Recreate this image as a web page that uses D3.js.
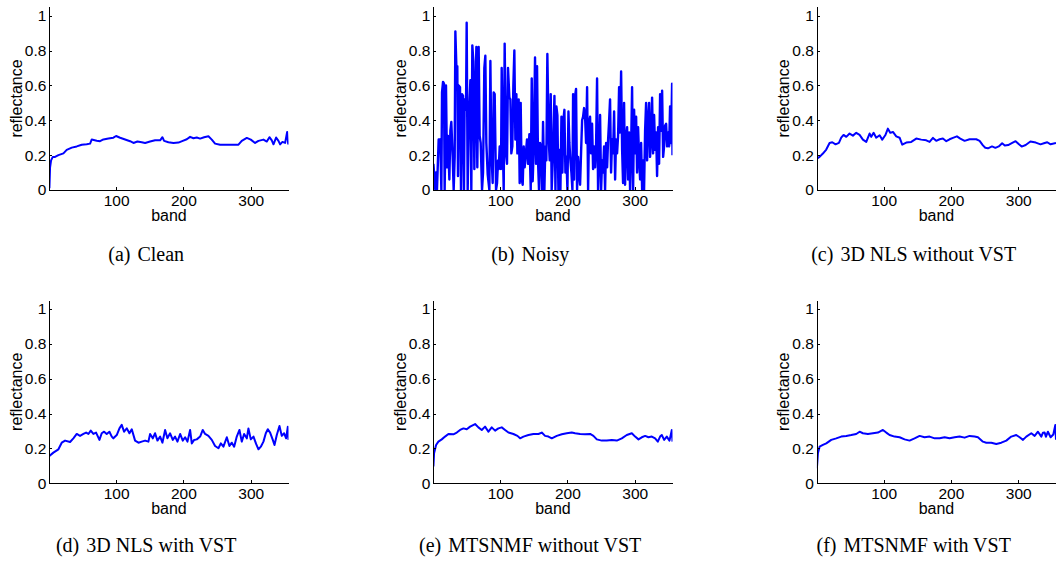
<!DOCTYPE html>
<html>
<head>
<meta charset="utf-8">
<script src="https://cdn.jsdelivr.net/npm/d3@7"></script>
<style>
  html, body { margin: 0; padding: 0; background: #fff; }
  svg { display: block; }
  .axis text { font-family: "Liberation Sans", Arial, sans-serif; font-size: 15.5px; fill: #000; }
  .axis path, .axis line { stroke: #000; stroke-width: 1; shape-rendering: crispEdges; }
  .label { font-family: "Liberation Sans", Arial, sans-serif; font-size: 16px; fill: #000; }
  .caption { font-family: "Liberation Serif", "Times New Roman", serif; font-size: 20px; fill: #000; }
</style>
</head>
<body>
<svg id="chart" width="1056" height="565"></svg>
<script>
// Spectral signatures: [band, reflectance]
const clean = [
  [1,0.01],[2,0.13],[3.5,0.17],[6,0.19],[9.4,0.19],[14.4,0.20],[21.8,0.21],[26.7,0.23],[34.2,0.243],
  [41.6,0.25],[49,0.26],[56.4,0.262],[61.4,0.266],[63.9,0.29],[71.3,0.283],[76.2,0.28],[81.2,0.29],
  [88.6,0.295],[96,0.30],[100,0.31],[106,0.30],[113.4,0.29],[120.8,0.28],[125.8,0.27],[131.7,0.278],
  [138.1,0.274],[143.1,0.27],[150.5,0.278],[157.9,0.285],[165.4,0.285],[168.8,0.303],[171.3,0.282],
  [177.7,0.274],[185.2,0.27],[192.6,0.272],[199,0.282],[205,0.291],[209.9,0.305],[214.9,0.297],
  [219.8,0.301],[224.8,0.295],[230.7,0.303],[237.1,0.308],[242.1,0.289],[247,0.266],[254.5,0.26],
  [264.4,0.259],[274.3,0.259],[281.7,0.26],[286.6,0.282],[294.1,0.299],[300,0.289],[306.4,0.27],
  [311.4,0.282],[318.8,0.289],[323.8,0.278],[327.7,0.303],[331.2,0.285],[333.7,0.262],[337.6,0.301],
  [341.1,0.282],[343.6,0.262],[347,0.276],[351,0.27],[354,0.333],[355.5,0.266],[356,0.27]
];

const noisy = [
  [1,0.15],[3.9,0],[4.9,0.10],[6.3,0],[8.8,0.29],[11.3,0.29],[12.8,0],[13.8,0.56],[15.3,0.62],
  [16.7,0.61],[17.7,0],[19.7,0.60],[21.2,0.13],[22.7,0.31],[24.7,0.06],[26.2,0.34],[27.6,0.39],
  [29.6,0.19],[31.1,0],[32.6,0.19],[33.6,0.91],[35.1,0.71],[36.5,0.71],[37.5,0.08],[38.5,0.60],
  [40.5,0.59],[42,0],[43.5,0.55],[45,0.54],[46.4,0],[47.4,0.52],[49.4,0.46],[50.4,0.96],[51.9,0],
  [53.4,0.38],[55.9,0.63],[57.3,0],[58.8,0.83],[60.3,0.74],[61.8,0.12],[63.3,0.55],[64.8,0.82],
  [66.2,0.13],[68.2,0.82],[69.7,0.31],[71.2,0.27],[73.2,0],[74.7,0.10],[76.6,0.70],[78.1,0.77],
  [79.6,0.27],[81.6,0.09],[84.1,0],[85.6,0.74],[87,0.23],[89,0.04],[90.5,0.56],[92,0.55],[94,0],
  [95.5,0.04],[97,0.17],[98,0.12],[99.4,0.25],[101.4,0.12],[102.4,0.70],[103.9,0.29],[105.4,0],
  [106.8,0.84],[108.8,0.21],[110.3,0.15],[111.8,0.70],[113.8,0.53],[115.3,0.52],[116.7,0.21],
  [118.2,0.25],[119.7,0.60],[121.2,0.80],[122.7,0.29],[124.2,0.55],[125.7,0.21],[127.6,0.52],
  [129.1,0.04],[130.6,0.50],[132.1,0.06],[133.6,0.03],[135.1,0.25],[136.5,0.13],[138.5,0.22],
  [140,0.29],[141.5,0.15],[143.5,0.32],[145.5,0],[147,0.64],[148.4,0.05],[149.9,0.23],[151.9,0.76],
  [153.4,0.15],[154.9,0.71],[156.3,0.17],[157.8,0],[159.3,0.27],[160.8,0.25],[162.3,0],[163.8,0.39],
  [165.8,0],[167.2,0.25],[168.7,0.17],[170.2,0.78],[172.2,0.29],[173.7,0.17],[175.2,0.55],[176.6,0],
  [178.1,0.15],[180.7,0.54],[182.2,0],[183.6,0.48],[185.1,0.43],[186.6,0],[188.1,0.23],[189.6,0],
  [191.1,0.42],[192.5,0.10],[194,0.40],[195.5,0.46],[197,0.10],[198.5,0.19],[200,0],[201.5,0.45],
  [202.9,0.27],[204.4,0.17],[205.9,0.10],[207.4,0],[208.4,0.55],[209.9,0.06],[211.4,0.54],
  [212.8,0.58],[214.3,0],[215.8,0.19],[217.3,0.10],[218.8,0.03],[220.3,0.22],[221.8,0.40],
  [223.2,0.42],[224.7,0.47],[226.2,0.42],[227.7,0.27],[229.2,0.59],[230.7,0],[232.2,0.38],
  [233.6,0.42],[235.1,0.21],[236.6,0.38],[238.1,0.12],[239.6,0.25],[241.1,0.13],[242.5,0.25],
  [244,0.64],[245.5,0],[247,0.19],[248.5,0.43],[250,0],[251.5,0.17],[252.9,0.10],[254.4,0.25],
  [255.9,0],[257.4,0.27],[258.9,0.13],[260.4,0.29],[261.9,0.40],[263.3,0.52],[264.8,0.10],
  [266.3,0.29],[267.8,0.21],[269.3,0.45],[270.8,0.06],[272.2,0.29],[273.7,0.21],[275.2,0.31],
  [276.7,0.59],[278.2,0.33],[279.7,0.68],[281.2,0.23],[282.6,0.04],[284.1,0.50],[285.6,0.03],
  [287.1,0.29],[288.6,0.36],[290.1,0.06],[291.6,0.33],[293,0],[294.5,0.23],[296,0.59],[297.5,0],
  [299,0.46],[300.5,0.21],[302,0.42],[303.4,0.10],[304.9,0.36],[306.4,0.19],[307.9,0.06],
  [309.4,0.27],[310.9,0],[312.3,0.17],[313.8,0],[315.3,0.34],[316.8,0.50],[318.3,0.17],
  [319.8,0.40],[321.3,0.50],[322.7,0.19],[324.2,0.29],[325.7,0.53],[327.2,0.21],[328.7,0.43],
  [330.2,0.23],[331.7,0.33],[333.1,0.08],[334.6,0.36],[336.1,0.15],[337.6,0.55],[339.1,0.34],
  [340.6,0.57],[342.1,0.19],[343.5,0.25],[345,0.37],[346.5,0.38],[348,0.25],[349.5,0.33],
  [351,0.25],[352.4,0.48],[353.9,0.27],[355.4,0.61],[356,0.20]
];

const nlsNoVst = [
  [1,0.18],[5,0.19],[9.9,0.209],[14.9,0.232],[19.8,0.27],[23.8,0.274],[28.7,0.262],[33.7,0.27],
  [37.1,0.30],[40.6,0.316],[44.6,0.305],[49.5,0.324],[54.5,0.312],[59.4,0.328],[64.4,0.316],
  [69.3,0.289],[74.3,0.276],[79.2,0.324],[81.7,0.305],[85.2,0.328],[89.1,0.30],[94.1,0.314],
  [98,0.289],[102.5,0.314],[106.4,0.352],[109.9,0.328],[113.9,0.333],[118.8,0.308],[123.8,0.30],
  [127.7,0.26],[133.7,0.272],[141.1,0.276],[148.5,0.295],[155.9,0.289],[163.4,0.285],[168.3,0.276],
  [173.3,0.299],[178.2,0.282],[183.2,0.291],[188.1,0.295],[193.1,0.28],[198,0.291],[203,0.299],
  [208.9,0.308],[213.9,0.295],[220.3,0.282],[227.7,0.291],[237.6,0.291],[242.6,0.282],[247.5,0.256],
  [251,0.242],[255,0.239],[261,0.25],[266,0.242],[271,0.25],[276,0.268],[280,0.255],[285,0.258],
  [291,0.27],[296,0.28],[301,0.262],[305,0.249],[311,0.258],[318,0.278],[326,0.272],[333,0.262],
  [338,0.268],[343,0.274],[348,0.262],[356,0.27]
];

const nlsVst = [
  [1,0.157],[6.9,0.176],[14.4,0.195],[19.3,0.233],[24.3,0.245],[31.7,0.237],[36.6,0.258],
  [41.6,0.283],[46.5,0.272],[51.5,0.283],[55.5,0.291],[58.9,0.283],[62.4,0.302],[66.3,0.283],
  [70.3,0.291],[75.3,0.249],[78.7,0.287],[82.2,0.296],[86.1,0.283],[90.1,0.296],[93.6,0.268],
  [96,0.258],[101,0.277],[105,0.315],[108.4,0.335],[111.9,0.296],[115.9,0.315],[119.8,0.287],
  [123.3,0.31],[128.2,0.245],[133.2,0.233],[138.1,0.239],[143.1,0.245],[148,0.239],[150.5,0.283],
  [154.5,0.258],[157.9,0.287],[161.4,0.245],[165.4,0.268],[168.8,0.233],[172.8,0.306],[176.2,0.258],
  [180.2,0.287],[184.2,0.249],[187.6,0.268],[191.1,0.239],[195.1,0.283],[199,0.245],[202.5,0.264],
  [206,0.239],[209.9,0.306],[212.4,0.229],[215.9,0.249],[219.8,0.252],[224.8,0.268],[228.7,0.306],
  [232.2,0.283],[237.1,0.272],[242.1,0.249],[247,0.214],[252,0.201],[255.5,0.229],[259.4,0.21],
  [264.4,0.264],[268.3,0.214],[271.8,0.233],[275.3,0.21],[279.2,0.268],[283.2,0.306],[286.6,0.239],
  [290.1,0.283],[294.1,0.258],[296.5,0.315],[300,0.252],[304,0.268],[307.9,0.226],[311.4,0.195],
  [314.9,0.21],[318.8,0.239],[322.3,0.287],[325.3,0.31],[328.7,0.291],[332.7,0.249],[335.2,0.22],
  [338.6,0.277],[342.6,0.329],[346,0.272],[349.5,0.287],[352.5,0.258],[355,0.325],[356,0.249]
];

const mtsNoVst = [
  [1,0.096],[2,0.172],[5,0.22],[8.4,0.239],[13.4,0.252],[18.3,0.268],[23.3,0.283],[30.7,0.281],
  [35.7,0.291],[40.6,0.306],[45.6,0.315],[50.5,0.31],[55.5,0.325],[62.9,0.34],[67.8,0.321],
  [72.8,0.306],[77.7,0.325],[82.7,0.296],[87.6,0.321],[92.6,0.302],[97.5,0.315],[102.5,0.321],
  [107.4,0.306],[112.4,0.291],[119.8,0.283],[125.8,0.272],[129.7,0.258],[134.7,0.268],[142.1,0.277],
  [149.5,0.283],[157,0.283],[161.9,0.291],[166.8,0.272],[171.8,0.268],[176.7,0.258],[184.2,0.272],
  [191.6,0.281],[199,0.287],[206.4,0.291],[211.4,0.287],[218.8,0.283],[226.2,0.281],[233.7,0.283],
  [238.6,0.272],[243.6,0.252],[251,0.245],[258.4,0.245],[265.9,0.249],[273.3,0.245],[280.7,0.258],
  [288.1,0.277],[295.6,0.287],[300.5,0.268],[305.5,0.252],[310.4,0.264],[315.4,0.272],[320.3,0.264],
  [325.3,0.268],[330.2,0.258],[334.2,0.239],[337.6,0.268],[340.1,0.277],[343.6,0.249],[347.5,0.268],
  [351.5,0.245],[355,0.306],[356,0.239]
];

const mtsVst = [
  [1,0.086],[2.5,0.172],[5,0.21],[9.9,0.22],[14.9,0.229],[22.3,0.249],[29.7,0.258],[37.1,0.268],
  [44.6,0.272],[52,0.277],[59.4,0.283],[64.4,0.296],[69.3,0.287],[76.7,0.283],[84.2,0.287],
  [91.6,0.291],[99,0.306],[104,0.291],[108.9,0.277],[116.3,0.268],[123.8,0.264],[131.2,0.252],
  [138.6,0.245],[146,0.258],[153.5,0.272],[160.9,0.264],[168.3,0.268],[175.8,0.258],[183.2,0.258],
  [190.6,0.264],[198,0.258],[205.5,0.264],[212.9,0.268],[220.3,0.262],[227.7,0.272],[235.2,0.268],
  [240.1,0.264],[247.5,0.239],[252.5,0.233],[259.9,0.233],[267.3,0.226],[274.8,0.233],[282.2,0.245],
  [289.6,0.268],[297,0.277],[302,0.264],[307,0.249],[311.9,0.268],[319.3,0.287],[324.3,0.272],
  [329.2,0.296],[334.2,0.268],[336.5,0.29],[339.1,0.291],[341,0.267],[344,0.296],[348,0.264],
  [352,0.28],[355,0.334],[356,0.25]
];

const series = [clean, noisy, nlsNoVst, nlsVst, mtsNoVst, mtsVst];
const letters = ["(a)", "(b)", "(c)", "(d)", "(e)", "(f)"];
const captions = ["Clean", "Noisy", "3D NLS without VST", "3D NLS with VST", "MTSNMF without VST", "MTSNMF with VST"];
const xTicks = [100, 200, 300];
const yTicks = [0, 0.2, 0.4, 0.6, 0.8, 1];
const xTitle = "band";
const yTitle = "reflectance";

// Layout
const colX = [49.4, 433.4, 816.9];      // left edge of each plot column
const rowBase = [190, 483.3];           // pixel row of reflectance 0
const captionY = [261.3, 551.7];
const plotW = 239.1;
const yMax = 1.05;
const plotH = 174.3 * yMax;

const svg = d3.select("#chart");
const defs = svg.append("defs");

const x = d3.scaleLinear().domain([1, 356]).range([0, plotW]);
const y = d3.scaleLinear().domain([0, yMax]).range([plotH, 0]);

const line = d3.line().x(d => x(d[0])).y(d => y(d[1]));

series.forEach((data, i) => {
  const col = i % 3, row = Math.floor(i / 3);
  const ox = colX[col], oy = rowBase[row] - plotH;
  const g = svg.append("g").attr("transform", `translate(${ox},${oy})`);

  const clipId = `clip-${i}`;
  defs.append("clipPath").attr("id", clipId)
    .append("rect").attr("x", 0).attr("y", 0).attr("width", plotW).attr("height", plotH);

  g.append("path")
    .datum(data)
    .attr("clip-path", `url(#${clipId})`)
    .attr("fill", "none")
    .attr("stroke", "#0000ff")
    .attr("stroke-width", data === noisy ? 2.4 : 2)
    .attr("stroke-linejoin", "round")
    .attr("d", line);

  g.append("g")
    .attr("class", "axis")
    .attr("transform", `translate(0,${plotH})`)
    .call(d3.axisBottom(x).tickValues(xTicks).tickSizeInner(-3).tickSizeOuter(0).tickPadding(5).tickFormat(d3.format("d")));

  g.append("g")
    .attr("class", "axis")
    .call(d3.axisLeft(y).tickValues(yTicks).tickSizeInner(-3).tickSizeOuter(0).tickPadding(3).tickFormat(d3.format("~g")));

  g.append("text")
    .attr("class", "label")
    .attr("text-anchor", "middle")
    .attr("x", plotW / 2)
    .attr("y", plotH + 31)
    .text(xTitle);

  g.append("text")
    .attr("class", "label")
    .attr("text-anchor", "middle")
    .attr("transform", `translate(-27.7,${plotH / 2}) rotate(-90)`)
    .text(yTitle);

  const cap = svg.append("text")
    .attr("class", "caption")
    .attr("text-anchor", "middle")
    .attr("x", ox + 96.8)
    .attr("y", captionY[row]);
  cap.append("tspan").text(letters[i]);
  cap.append("tspan").attr("dx", 7).text(captions[i]);
});
</script>
</body>
</html>
